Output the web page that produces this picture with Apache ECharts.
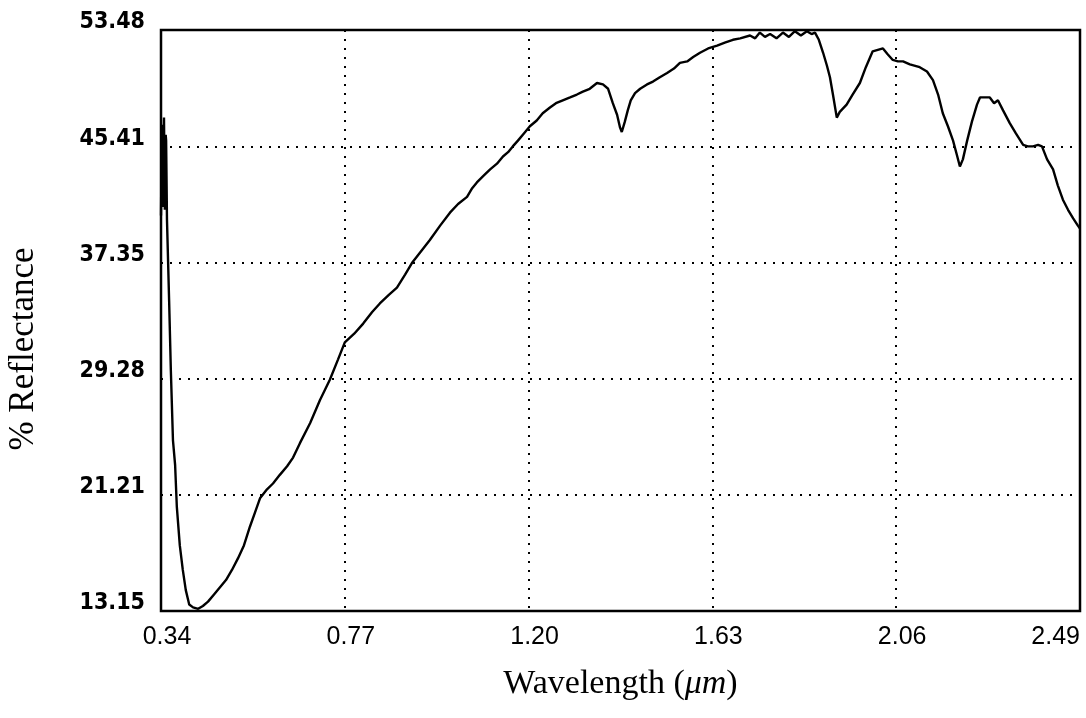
<!DOCTYPE html>
<html>
<head>
<meta charset="utf-8">
<script src="https://cdn.jsdelivr.net/npm/echarts@6/dist/echarts.min.js"></script>
<style>
html,body{margin:0;padding:0;background:#fff;}
#chart{width:1086px;height:718px;}
</style>
</head>
<body>
<div id="chart"></div>
<script>
const wavelength = [
  0.340,0.342,0.344,0.345,0.347,0.349,0.351,0.352,0.354,0.359,0.363,0.368,0.373,0.377,0.384,0.391,0.398,0.406,0.415,0.427,
  0.438,0.450,0.464,0.478,0.492,0.506,0.520,0.534,0.548,0.560,0.572,0.588,0.602,0.618,0.635,0.649,0.665,0.689,0.712,0.735,
  0.754,0.770,0.792,0.813,0.834,0.852,0.873,0.892,0.911,0.927,0.948,0.969,0.993,1.016,1.035,1.056,1.068,1.079,1.096,1.110,
  1.126,1.140,1.152,1.163,1.175,1.189,1.203,1.219,1.233,1.250,1.264,1.280,1.297,1.313,1.327,1.343,1.360,1.374,1.386,1.397,
  1.407,1.414,1.418,1.425,1.432,1.439,1.449,1.461,1.477,1.491,1.507,1.524,1.540,1.554,1.571,1.585,1.601,1.620,1.641,1.659,
  1.678,1.695,1.718,1.730,1.741,1.753,1.765,1.780,1.795,1.809,1.823,1.837,1.851,1.862,1.870,1.879,1.889,1.898,1.905,1.912,
  1.921,1.928,1.944,1.958,1.975,1.989,2.005,2.017,2.029,2.040,2.052,2.064,2.076,2.092,2.115,2.132,2.146,2.158,2.169,2.181,
  2.193,2.202,2.209,2.216,2.226,2.237,2.249,2.256,2.268,2.279,2.289,2.298,2.310,2.326,2.340,2.357,2.368,2.380,2.392,2.401,
  2.413,2.427,2.438,2.450,2.462,2.474,2.485,2.490
];
const reflectance = [
  40.6,46.9,41.2,44.5,47.4,41.0,46.2,45.8,40.3,34.7,29.9,25.0,23.3,20.4,17.7,16.0,14.6,13.6,13.4,13.3,
  13.5,13.8,14.3,14.8,15.3,16.0,16.8,17.7,19.0,20.0,21.0,21.6,22.0,22.6,23.2,23.8,24.8,26.2,27.8,29.2,
  30.6,31.8,32.4,33.1,33.9,34.5,35.1,35.6,36.5,37.3,38.1,38.9,39.9,40.8,41.4,41.9,42.5,42.9,43.4,43.8,
  44.2,44.7,45.0,45.4,45.8,46.3,46.8,47.2,47.7,48.1,48.4,48.6,48.8,49.0,49.2,49.4,49.8,49.7,49.4,48.4,
  47.6,46.7,46.4,47.1,47.9,48.6,49.1,49.4,49.7,49.9,50.2,50.5,50.8,51.2,51.3,51.6,51.9,52.2,52.4,52.6,
  52.8,52.9,53.1,52.9,53.3,53.0,53.2,52.9,53.3,53.0,53.4,53.1,53.4,53.2,53.3,52.8,51.9,51.0,50.2,49.0,
  47.4,47.8,48.3,49.0,49.8,50.9,52.0,52.1,52.2,51.8,51.4,51.3,51.3,51.1,50.9,50.6,50.0,49.0,47.7,46.8,
  45.8,44.8,44.0,44.5,45.8,47.1,48.3,48.8,48.8,48.8,48.4,48.6,47.9,47.0,46.3,45.5,45.4,45.4,45.5,45.4,
  44.5,43.8,42.7,41.7,41.0,40.4,39.9,39.7
];
const xTickValues = [0.34, 0.77, 1.20, 1.63, 2.06, 2.49];
const xTickLabels = ['0.34', '0.77', '1.20', '1.63', '2.06', '2.49'];
const yTickValues = [13.15, 21.21, 29.28, 37.35, 45.41, 53.48];
const yTickLabels = ['13.15', '21.21', '29.28', '37.35', '45.41', '53.48'];

function lookup(values, labels, v) {
  let best = 0, bd = Infinity;
  values.forEach((t, i) => { const d = Math.abs(t - v); if (d < bd) { bd = d; best = i; } });
  return labels[best];
}

const chart = echarts.init(document.getElementById('chart'));
const gridSplit = { show: true, lineStyle: { color: '#000', width: 2, type: [2, 7] } };
chart.setOption({
  animation: false,
  backgroundColor: '#fff',
  grid: { left: 161, right: 6, top: 30, bottom: 107, show: true, borderColor: '#000', borderWidth: 2.5, containLabel: false },
  xAxis: {
    type: 'value', min: 0.34, max: 2.49,
    axisLine: { show: false }, axisTick: { show: false, customValues: xTickValues },
    splitLine: gridSplit,
    axisLabel: {
      customValues: xTickValues,
      formatter: v => lookup(xTickValues, xTickLabels, v),
      color: '#000', fontFamily: '"Liberation Sans", Arial, sans-serif', fontSize: 25,
      margin: 14, padding: [0, 0, 0, 12], alignMaxLabel: 'right'
    },
    name: '{n|Wavelength (}{i|μm}{n|)}',
    nameLocation: 'middle', nameGap: 56,
    nameTextStyle: {
      rich: {
        n: { fontFamily: '"Liberation Serif", "DejaVu Serif", serif', fontSize: 34, color: '#000' },
        i: { fontFamily: '"Liberation Serif", "DejaVu Serif", serif', fontStyle: 'italic', fontSize: 34, color: '#000' }
      }
    }
  },
  yAxis: {
    type: 'value', min: 13.15, max: 53.48,
    axisLine: { show: false }, axisTick: { show: false, customValues: yTickValues },
    splitLine: gridSplit,
    axisLabel: {
      customValues: yTickValues,
      formatter: v => lookup(yTickValues, yTickLabels, v),
      color: '#000', fontFamily: '"DejaVu Sans Condensed", "Liberation Sans Narrow", "DejaVu Sans", sans-serif',
      fontWeight: 'bold', fontSize: 23, margin: 16, verticalAlign: 'bottom', lineHeight: 15
    }
  },
  graphic: [{
    type: 'text', x: 24, y: 349, rotation: Math.PI / 2,
    style: { text: '% Reflectance', fill: '#000', font: '35px "Liberation Serif", "DejaVu Serif", serif', align: 'center', verticalAlign: 'middle' }
  }],
  series: [{
    type: 'line', showSymbol: false, clip: true,
    lineStyle: { color: '#000', width: 2.4 },
    data: wavelength.map((w, i) => [w, reflectance[i]])
  }]
});
</script>
</body>
</html>
